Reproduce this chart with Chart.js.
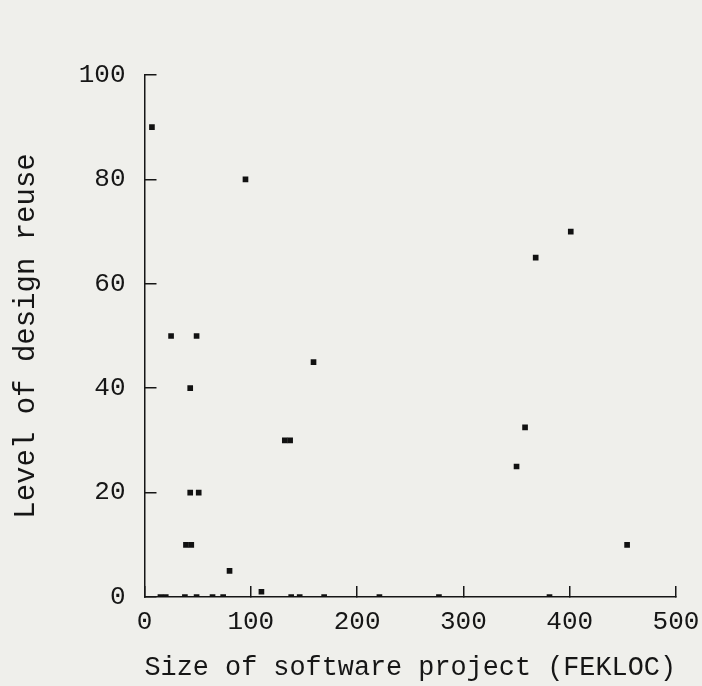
<!DOCTYPE html>
<html>
<head>
<meta charset="utf-8">
<script src="https://cdn.jsdelivr.net/npm/chart.js@4"></script>
<style>
  html, body { margin: 0; padding: 0; background: #efefeb; }
  #wrap { width: 702px; height: 686px; }
</style>
</head>
<body>
<div id="wrap"><canvas id="grafico"></canvas></div>
<script>
// size of software project (FEKLOC) and level of design reuse (%)
const projectSize = [7, 95, 25, 49, 43, 159, 132, 137, 43, 51, 39, 44, 80, 110, 454, 350, 358, 368, 401,
    15, 20, 38, 49, 64, 74, 138, 146, 169, 221, 277, 381];
const designReuse = [90, 80, 50, 50, 40, 45, 30, 30, 20, 20, 10, 10, 5, 1, 10, 25, 32.5, 65, 70,
    0, 0, 0, 0, 0, 0, 0, 0, 0, 0, 0, 0];
const xTicks = [0, 100, 200, 300, 400, 500];
const yTicks = [0, 20, 40, 60, 80, 100];

const fonte = "'Liberation Mono', 'Courier New', monospace";
const preto = '#161616';

let pontos = [];
for (let i = 0; i < projectSize.length; i++) {
    pontos.push({x: projectSize[i], y: designReuse[i]});
}

const ctx = document.getElementById('grafico').getContext('2d');
const graficoDispersao = new Chart(ctx, {
    type: 'scatter',
    data: {
        datasets: [{
            data: pontos,
            pointStyle: 'rect',
            pointRadius: 4,
            pointBorderWidth: 0,
            backgroundColor: '#111',
            borderColor: '#111'
        }]
    },
    options: {
        responsive: true,
        maintainAspectRatio: false,
        animation: false,
        layout: { padding: { top: 75, right: 26, bottom: 0, left: 0 } },
        plugins: { legend: { display: false }, tooltip: { enabled: false } },
        scales: {
            x: {
                type: 'linear',
                min: 0,
                max: 500,
                afterBuildTicks: s => { s.ticks = xTicks.map(v => ({value: v})); },
                afterFit: s => { s.height = 89; s.paddingLeft = 0; s.paddingRight = 0; },
                border: { display: true, color: preto, width: 1.5 },
                grid: { drawOnChartArea: false, color: preto, lineWidth: 1.5, tickLength: -11 },
                ticks: { color: preto, padding: 21, font: { family: fonte, size: 26 } },
                title: {
                    display: true,
                    text: 'Size of software project (FEKLOC)',
                    color: preto,
                    padding: { top: 0, bottom: 2 },
                    font: { family: fonte, size: 27 }
                }
            },
            y: {
                type: 'linear',
                min: 0,
                max: 100,
                afterBuildTicks: s => { s.ticks = yTicks.map(v => ({value: v})); },
                afterFit: s => { s.width = 144.5; s.paddingTop = 0; s.paddingBottom = 0; },
                border: { display: true, color: preto, width: 1.5 },
                grid: { drawOnChartArea: false, color: preto, lineWidth: 1.5, tickLength: -12 },
                ticks: { color: preto, padding: 31, font: { family: fonte, size: 26 } },
                title: {
                    display: true,
                    text: 'Level of design reuse',
                    color: preto,
                    padding: { top: 9, bottom: 0 },
                    font: { family: fonte, size: 29 }
                }
            }
        }
    }
});
</script>
</body>
</html>
